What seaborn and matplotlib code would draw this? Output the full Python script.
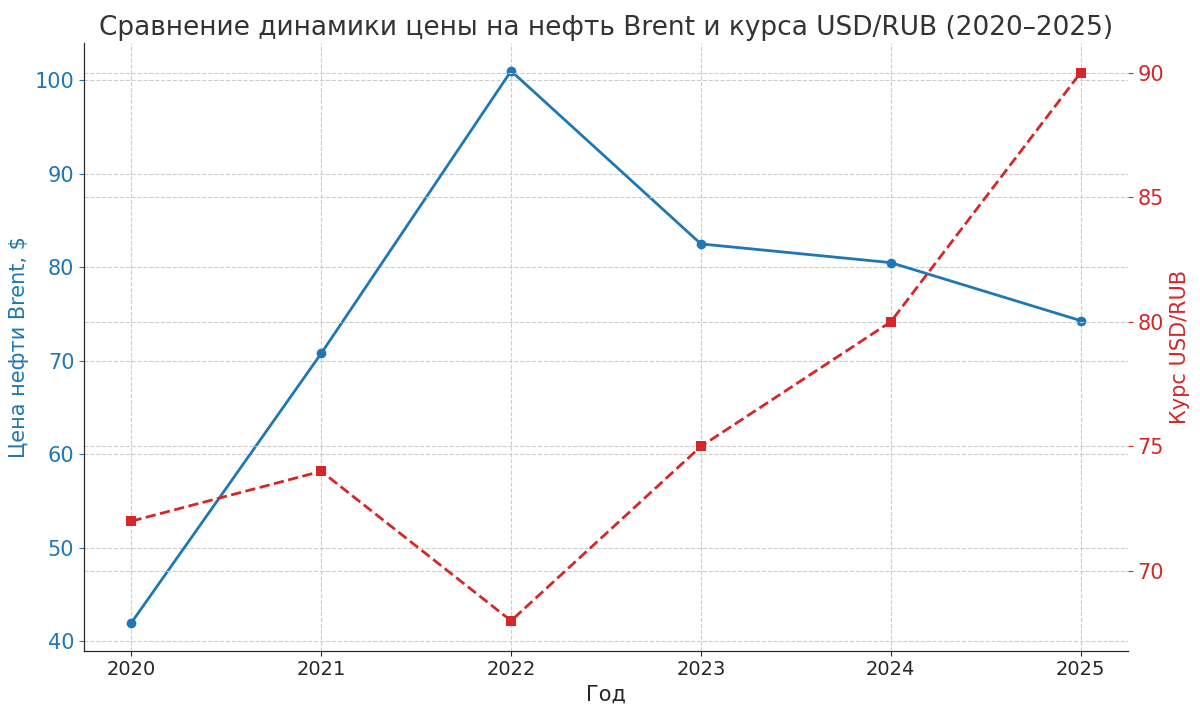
import matplotlib
matplotlib.use("Agg")
import matplotlib.pyplot as plt
import seaborn as sns
import pandas as pd

years = [2020, 2021, 2022, 2023, 2024, 2025]
brent = [42.0, 70.8, 101.0, 82.5, 80.5, 74.3]
usdrub = [72.0, 74.0, 68.0, 75.0, 80.0, 90.0]

df = pd.DataFrame({"year": years, "brent": brent, "usdrub": usdrub})

sns.set_style("ticks")
plt.rcParams["font.family"] = ["DejaVu Sans"]

fig, ax1 = plt.subplots(figsize=(12, 7.15), dpi=100)
blue, red = "#1f77b4", "#d62728"

sns.lineplot(data=df, x="year", y="brent", ax=ax1, color=blue, marker="o",
             markersize=7, markeredgewidth=0, linewidth=2)
ax1.set_ylabel("Цена нефти Brent, $", color=blue, fontsize=15)
ax1.set_xlabel("Год", fontsize=15)
ax1.tick_params(axis="y", colors=blue, labelsize=15)
ax1.tick_params(axis="x", labelsize=14)
ax1.set_ylim(39, 104)
ax1.set_xticks(years)
ax1.set_xlim(2019.75, 2025.25)
ax1.grid(True, linestyle="--", color="#cccccc", linewidth=0.8)

ax2 = ax1.twinx()
sns.lineplot(data=df, x="year", y="usdrub", ax=ax2, color=red, marker="s",
             markersize=7, markeredgewidth=0, linewidth=2, linestyle="--")
ax2.set_ylabel("Курс USD/RUB", color=red, fontsize=15)
ax2.tick_params(axis="y", colors=red, labelsize=15)
ax2.set_ylim(66.8, 91.2)
ax2.set_yticks([70, 75, 80, 85, 90])
ax2.grid(True, linestyle="--", color="#cccccc", linewidth=0.8)

for ax in (ax1, ax2):
    ax.spines["top"].set_visible(False)
    ax.spines["right"].set_visible(False)

ax1.set_title("Сравнение динамики цены на нефть Brent и курса USD/RUB (2020–2025)",
              fontsize=19, color="#333333")
fig.subplots_adjust(left=0.07, right=0.94, top=0.94, bottom=0.09)
fig.savefig("out.png", dpi=100)
